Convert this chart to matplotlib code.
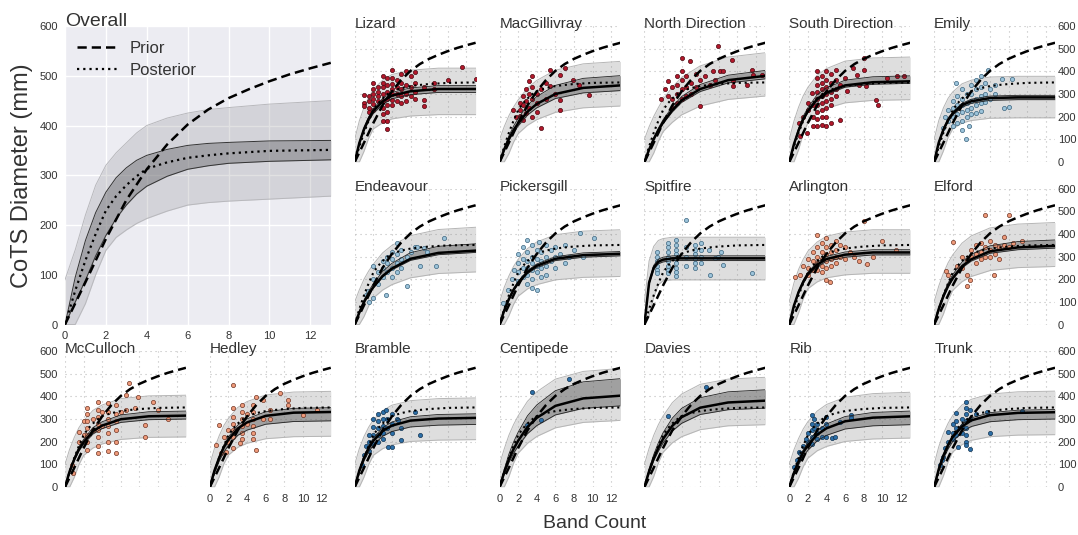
import matplotlib.pyplot as plt
import matplotlib.gridspec as gridspec
from matplotlib.lines import Line2D

plt.rcParams['font.family'] = ['Liberation Sans', 'DejaVu Sans']

BAND = [0, 0.5, 1, 1.5, 2, 3, 4, 6, 9, 13]
FINE_BAND = [0, 0.5, 1, 1.5, 2, 2.5, 3, 3.5, 4, 5, 6, 7, 8, 10, 13]
PRIOR_BAND = [0, 1, 2, 3, 4, 5, 6, 7, 8, 9, 10, 11, 12, 13]
PRIOR = [0, 85, 172, 250, 312, 362, 402, 432, 455, 473, 489, 503, 515, 526]

# overall panel, read at FINE_BAND
POSTERIOR = [0, 68, 129, 182, 229, 258, 280, 298, 313, 326, 335, 340, 344, 349, 351]
OVERALL_CI_LO = [0, 45, 89, 138, 179, 213, 240, 262, 278, 298, 312, 319, 324, 328, 331]
OVERALL_CI_HI = [0, 95, 169, 225, 266, 295, 315, 330, 340, 352, 360, 364, 366, 369, 370]
OVERALL_PI_LO = [0, 0, 42, 100, 149, 175, 190, 203, 213, 228, 240, 245, 248, 252, 258]
OVERALL_PI_HI = [90, 150, 220, 280, 320, 345, 365, 385, 400, 415, 425, 432, 436, 443, 450]

REEFS = ['Lizard', 'MacGillivray', 'North Direction', 'South Direction', 'Emily',
         'Endeavour', 'Pickersgill', 'Spitfire', 'Arlington', 'Elford',
         'McCulloch', 'Hedley', 'Bramble', 'Centipede', 'Davies', 'Rib', 'Trunk']

# reef curves, read at BAND
REEF_MEAN = [
    [0, 84, 145, 190, 225, 267, 293, 312, 322, 322],
    [0, 55, 102, 140, 171, 222, 256, 300, 327, 338],
    [0, 54, 101, 140, 175, 229, 272, 322, 361, 380],
    [0, 78, 139, 189, 224, 278, 306, 338, 352, 356],
    [0, 86, 143, 185, 214, 251, 268, 282, 285, 285],
    [0, 53, 99, 135, 165, 214, 247, 290, 316, 326],
    [0, 62, 112, 153, 184, 231, 259, 290, 306, 312],
    [0, 184, 251, 277, 286, 292, 292, 292, 292, 292],
    [0, 83, 143, 188, 223, 264, 289, 308, 318, 318],
    [0, 69, 125, 170, 205, 257, 288, 323, 340, 347],
    [0, 69, 123, 167, 198, 246, 271, 299, 312, 315],
    [0, 73, 129, 175, 209, 258, 285, 314, 328, 331],
    [0, 73, 128, 171, 204, 247, 271, 293, 302, 305],
    [0, 65, 122, 167, 204, 265, 305, 358, 391, 403],
    [0, 69, 127, 173, 212, 270, 308, 350, 373, 381],
    [0, 62, 112, 153, 184, 231, 259, 290, 306, 312],
    [0, 79, 139, 185, 221, 267, 294, 317, 327, 330],
]
REEF_CI_LO = [
    [0, 80, 138, 181, 214, 254, 279, 297, 307, 307],
    [0, 51, 95, 130, 159, 207, 239, 280, 305, 315],
    [0, 52, 98, 135, 169, 221, 263, 311, 349, 367],
    [0, 76, 136, 184, 218, 271, 298, 330, 343, 347],
    [0, 83, 138, 179, 207, 242, 259, 272, 275, 275],
    [0, 52, 97, 132, 161, 209, 241, 283, 308, 318],
    [0, 60, 109, 149, 179, 224, 251, 282, 297, 303],
    [0, 178, 242, 268, 276, 282, 282, 282, 282, 282],
    [0, 80, 138, 181, 215, 255, 279, 297, 307, 307],
    [0, 67, 121, 165, 199, 250, 280, 314, 330, 337],
    [0, 66, 117, 159, 189, 234, 258, 285, 297, 300],
    [0, 64, 114, 154, 184, 228, 251, 277, 289, 292],
    [0, 66, 116, 155, 185, 224, 245, 265, 273, 276],
    [0, 58, 108, 148, 181, 235, 271, 318, 347, 358],
    [0, 63, 116, 158, 194, 247, 281, 320, 341, 348],
    [0, 55, 99, 135, 162, 204, 228, 256, 270, 275],
    [0, 72, 126, 168, 201, 243, 267, 288, 297, 300],
]
REEF_CI_HI = [
    [0, 88, 152, 199, 236, 280, 307, 327, 337, 337],
    [0, 62, 115, 158, 193, 250, 289, 338, 369, 381],
    [0, 57, 107, 149, 186, 243, 289, 342, 383, 404],
    [0, 83, 148, 202, 239, 297, 327, 361, 376, 380],
    [0, 89, 148, 191, 221, 259, 277, 291, 294, 294],
    [0, 58, 108, 147, 180, 234, 270, 317, 345, 356],
    [0, 64, 116, 158, 190, 238, 267, 299, 316, 322],
    [0, 191, 261, 288, 297, 303, 303, 303, 303, 303],
    [0, 86, 148, 195, 231, 274, 300, 320, 330, 330],
    [0, 74, 134, 183, 220, 276, 310, 347, 366, 373],
    [0, 73, 131, 178, 210, 262, 288, 318, 332, 335],
    [0, 77, 136, 185, 221, 273, 301, 332, 347, 350],
    [0, 77, 136, 181, 216, 262, 287, 310, 320, 323],
    [0, 77, 145, 198, 242, 314, 362, 425, 464, 478],
    [0, 78, 143, 195, 239, 304, 347, 394, 420, 429],
    [0, 67, 120, 164, 198, 248, 278, 311, 329, 335],
    [0, 82, 144, 192, 229, 277, 305, 328, 339, 342],
]
REEF_PI_LO = [
    [0, 0, 47, 105, 146, 173, 190, 203, 209, 209],
    [0, 0, 37, 87, 125, 162, 187, 219, 239, 247],
    [0, 0, 39, 91, 134, 175, 208, 247, 276, 291],
    [0, 0, 54, 124, 173, 215, 237, 261, 272, 275],
    [0, 0, 49, 108, 146, 172, 183, 193, 195, 195],
    [0, 0, 35, 82, 117, 152, 176, 206, 225, 232],
    [0, 0, 38, 88, 125, 157, 176, 197, 208, 212],
    [0, 40, 120, 175, 193, 197, 197, 197, 197, 197],
    [0, 0, 51, 113, 158, 188, 206, 219, 226, 226],
    [0, 0, 46, 106, 151, 189, 212, 238, 251, 256],
    [0, 0, 43, 99, 139, 172, 190, 210, 219, 221],
    [0, 0, 44, 101, 141, 175, 193, 213, 222, 224],
    [0, 0, 44, 99, 140, 169, 186, 201, 207, 209],
    [0, 0, 45, 104, 149, 193, 223, 261, 285, 294],
    [0, 0, 46, 106, 153, 195, 222, 253, 270, 275],
    [0, 0, 39, 90, 127, 160, 179, 201, 212, 216],
    [0, 0, 49, 110, 155, 187, 206, 222, 229, 231],
]
REEF_PI_HI = [
    [100, 182, 241, 285, 320, 361, 386, 405, 414, 414],
    [100, 156, 204, 242, 274, 326, 360, 405, 433, 444],
    [100, 155, 201, 240, 276, 330, 373, 424, 463, 482],
    [100, 180, 242, 292, 329, 383, 412, 445, 459, 463],
    [100, 183, 239, 281, 309, 345, 361, 375, 378, 378],
    [100, 153, 200, 236, 266, 316, 349, 392, 419, 429],
    [100, 164, 214, 256, 288, 335, 364, 396, 412, 418],
    [100, 280, 345, 371, 379, 385, 385, 385, 385, 385],
    [100, 183, 243, 288, 323, 364, 389, 408, 418, 418],
    [100, 170, 226, 272, 307, 359, 391, 426, 443, 450],
    [100, 167, 219, 262, 292, 338, 362, 390, 402, 405],
    [100, 171, 226, 271, 303, 351, 377, 406, 419, 422],
    [100, 170, 223, 264, 296, 337, 361, 381, 390, 393],
    [100, 168, 228, 275, 314, 378, 420, 476, 510, 523],
    [100, 170, 228, 275, 313, 372, 410, 453, 476, 484],
    [100, 164, 214, 256, 288, 335, 364, 396, 412, 418],
    [100, 178, 236, 281, 316, 362, 387, 410, 420, 423],
]

# observed starfish: (band count, diameter mm)
pts_lizard = [(1, 297), (1, 260), (1, 245), (1.5, 290), (1.5, 270), (1.5, 240), (1.5, 220),
              (2, 350), (2, 320), (2, 300), (2, 280), (2, 255), (2, 230), (2.5, 330), (2.5, 310),
              (2.5, 290), (2.5, 270), (3, 380), (3, 350), (3, 330), (3, 300), (3, 270), (3, 240),
              (3, 210), (3, 180), (3.5, 370), (3.5, 340), (3.5, 310), (3.5, 280), (3.5, 250),
              (3.5, 220), (3.5, 180), (3.5, 145), (4, 407), (4, 370), (4, 345), (4, 320), (4, 300),
              (4, 275), (4, 250), (4.5, 360), (4.5, 330), (4.5, 300), (4.5, 270), (5, 390), (5, 350),
              (5, 320), (5, 290), (5, 260), (5.5, 400), (5.5, 340), (5.5, 300), (5.5, 270), (6, 380),
              (6, 330), (6, 290), (6.5, 395), (6.5, 350), (6.5, 310), (6.5, 280), (7.5, 330),
              (7.5, 275), (7.5, 246), (8.5, 350), (8.5, 320), (10, 363), (11.5, 421), (13, 366)]
pts_macgillivray = [(1.4, 231), (1.8, 200), (2.2, 261), (2.2, 230), (2.2, 205), (2.5, 290), (2.5, 250),
                    (2.5, 187), (2.8, 320), (2.8, 270), (2.8, 217), (3.2, 356), (3.2, 300), (3.2, 240),
                    (3.5, 378), (3.5, 330), (3.5, 280), (3.5, 200), (4, 300), (4, 261), (4, 220),
                    (4.5, 320), (4.5, 151), (5, 350), (5, 280), (5.4, 407), (5.4, 334), (6, 300),
                    (6.5, 385), (6.5, 275), (6.5, 231), (7, 414), (7.9, 363), (8.5, 341), (9.6, 297)]
pts_north = [(1.8, 280), (2.2, 320), (2.5, 356), (2.5, 290), (3, 330), (3, 280), (3, 240), (3.5, 380),
             (3.5, 340), (3.5, 300), (3.5, 260), (4, 458), (4, 400), (4, 360), (4, 320), (4, 280),
             (4.5, 380), (4.5, 330), (4.5, 290), (4.9, 444), (5, 350), (5, 300), (5.5, 390), (5.5, 330),
             (6, 360), (6, 246), (6.5, 380), (7, 340), (7.4, 400), (7.6, 363), (7.9, 512), (8.1, 400),
             (8.5, 400), (9.4, 451), (9.5, 356), (9.5, 334), (11, 341), (11.6, 407), (11.7, 385),
             (12.6, 385)]
pts_south = [(1, 173), (1.2, 114), (1.5, 200), (1.9, 129), (2, 230), (2, 260), (2.4, 305), (2.5, 250),
             (2.5, 200), (2.5, 160), (3, 400), (3, 370), (3, 340), (3, 310), (3, 280), (3, 250), (3, 220),
             (3, 190), (3, 158), (3.5, 380), (3.5, 350), (3.5, 320), (3.5, 290), (3.5, 260), (3.5, 230),
             (3.5, 200), (3.5, 165), (4, 400), (4, 360), (4, 330), (4, 300), (4, 270), (4, 240), (4, 200),
             (4, 160), (4.5, 390), (4.5, 350), (4.5, 310), (4.5, 280), (4.5, 250), (4.5, 170), (5, 407),
             (5, 360), (5, 320), (5, 290), (5.5, 340), (5.5, 187), (6, 370), (6.2, 312), (6.8, 414),
             (7.3, 385), (7.5, 340), (8, 458), (8, 407), (8.3, 334), (9.3, 275), (9.5, 253), (10.5, 370),
             (11.6, 380), (12.3, 380)]
pts_emily = [(1, 150), (1.2, 200), (1.5, 231), (1.5, 180), (2, 270), (2, 240), (2, 200), (2, 160),
             (2.4, 348), (2.5, 290), (2.5, 250), (2.5, 210), (2.5, 170), (3, 320), (3, 280), (3, 250),
             (3, 220), (3, 180), (3, 140), (3.4, 102), (3.5, 300), (3.5, 260), (3.5, 230), (3.5, 200),
             (3.7, 158), (4, 340), (4, 300), (4, 270), (4, 240), (4, 210), (4.5, 360), (4.5, 320),
             (4.5, 280), (4.5, 250), (4.5, 215), (5, 380), (5, 330), (5, 290), (5, 260), (5, 225),
             (5.5, 350), (5.5, 300), (5.5, 265), (5.8, 407), (6, 320), (6, 280), (6.5, 340), (6.5, 300),
             (7.3, 366), (7.5, 239), (8, 243), (8.4, 367)]
pts_endeavour = [(1.2, 130), (1.4, 146), (1.55, 101), (2, 256), (2, 200), (2, 116), (2.5, 230), (2.5, 180),
                 (3, 280), (3, 250), (3, 210), (3.4, 131), (3.5, 300), (3.5, 270), (3.5, 230), (4, 320),
                 (4, 290), (4, 250), (4, 210), (4.5, 359), (4.5, 310), (4.5, 270), (4.5, 230), (5, 330),
                 (5, 290), (5, 250), (5.6, 300), (5.6, 168), (6, 320), (6.5, 340), (6.7, 344), (7, 256),
                 (7.5, 337), (7.8, 320), (8.7, 256), (9.6, 381)]
pts_pickersgill = [(0.4, 94), (0.9, 153), (1.3, 200), (1.5, 240), (2, 312), (2, 270), (2, 230), (2, 190),
                   (2.5, 340), (2.5, 290), (2.5, 250), (2.5, 210), (2.9, 374), (3, 320), (3, 280), (3, 250),
                   (3, 220), (3, 180), (3.5, 350), (3.5, 300), (3.5, 270), (3.5, 240), (3.5, 200),
                   (3.5, 160), (4, 330), (4, 290), (4, 260), (4, 230), (4, 153), (4.2, 366), (4.5, 320),
                   (4.5, 280), (4.5, 250), (4.5, 210), (5, 350), (5, 300), (5, 260), (5, 220), (5.5, 330),
                   (5.5, 280), (6, 340), (6, 300), (6, 250), (6.5, 310), (7, 350), (7, 270), (7.5, 300),
                   (8, 330), (8.7, 403), (9, 300), (10.1, 381)]
pts_spitfire = [(1.4, 320), (1.4, 300), (1.4, 280), (1.4, 260), (1.4, 240), (1.4, 226), (2.5, 359),
                (2.5, 340), (2.5, 320), (2.5, 300), (2.5, 280), (2.5, 260), (2.5, 240), (2.5, 226),
                (3.4, 374), (3.4, 350), (3.4, 330), (3.4, 310), (3.4, 290), (3.4, 270), (3.4, 250),
                (3.4, 230), (3.4, 212), (4.5, 462), (4.5, 340), (4.5, 300), (4.5, 260), (5.4, 351),
                (5.4, 330), (5.4, 310), (5.4, 290), (5.4, 270), (5.4, 250), (6.1, 360), (6.1, 330),
                (6.1, 300), (6.1, 270), (6.9, 329), (7, 219), (7.6, 293), (7.9, 300), (8.2, 320),
                (8.5, 263), (11.6, 229)]
pts_arlington = [(0.6, 210), (1.2, 218), (1.5, 260), (2, 290), (2, 250), (2, 220), (2.5, 320), (2.5, 280),
                 (2.5, 240), (3, 393), (3, 340), (3, 300), (3, 270), (3, 240), (3.5, 360), (3.5, 320),
                 (3.5, 290), (3.5, 260), (3.5, 230), (4, 380), (4, 340), (4, 310), (4, 280), (4, 250),
                 (4, 196), (4.4, 188), (4.5, 350), (4.5, 320), (4.5, 290), (4.5, 260), (5, 370), (5, 330),
                 (5, 300), (5, 270), (5.5, 350), (5.5, 300), (6, 340), (6, 290), (6.5, 320), (7, 300),
                 (7.5, 280), (8, 456), (8.4, 265), (9, 300), (10, 370), (11.5, 330)]
pts_elford = [(1.3, 238), (1.5, 219), (2, 365), (2.5, 260), (3, 300), (3, 250), (3.5, 285), (3.5, 219),
              (3.5, 168), (3.9, 197), (4, 330), (4, 300), (4.5, 350), (4.5, 310), (4.5, 270), (5, 360),
              (5, 320), (5, 290), (5.5, 482), (5.5, 340), (5.5, 300), (6, 370), (6, 330), (6, 300),
              (6.4, 219), (6.5, 350), (6.5, 310), (7, 340), (7, 290), (7.5, 388), (7.5, 350), (8, 482),
              (8, 340), (8.5, 360), (9.5, 368)]
pts_mcculloch = [(0.8, 97), (0.9, 60), (1.5, 244), (1.5, 200), (2, 290), (2, 230), (2.4, 347), (2.4, 320),
                 (2.4, 290), (2.4, 260), (2.4, 230), (2.4, 200), (2.4, 163), (3, 300), (3, 250), (3.5, 376),
                 (3.5, 340), (3.5, 310), (3.5, 280), (3.5, 250), (3.5, 220), (3.5, 180), (3.5, 149),
                 (4, 330), (4, 270), (4.6, 370), (4.6, 330), (4.6, 300), (4.6, 270), (4.6, 240), (4.6, 200),
                 (4.6, 160), (5.5, 360), (5.5, 320), (5.5, 290), (5.5, 250), (5.5, 200), (5.5, 150),
                 (6, 330), (6.6, 406), (6.6, 340), (6.9, 457), (7.5, 350), (7.8, 399), (8.6, 274),
                 (8.6, 222), (9.5, 377), (10, 340), (11.1, 299)]
pts_hedley = [(0.65, 185), (1, 274), (1.2, 149), (1.5, 220), (1.7, 156), (2, 250), (2, 200), (2.5, 450),
              (2.5, 347), (2.5, 310), (2.5, 280), (2.5, 250), (2.5, 220), (2.5, 170), (3.2, 193), (3.5, 360),
              (3.5, 330), (3.5, 300), (3.5, 270), (3.5, 240), (3.5, 210), (4, 320), (4, 280), (4.6, 360),
              (4.6, 330), (4.6, 300), (4.6, 270), (4.6, 240), (4.6, 210), (5, 399), (5, 163), (5.7, 384),
              (5.7, 300), (6.5, 340), (6.5, 300), (7.5, 413), (8.4, 384), (8.4, 360), (10, 318), (11.5, 340)]
pts_bramble = [(0.8, 97), (1, 141), (1.2, 180), (1.5, 230), (1.5, 200), (1.5, 160), (2, 300), (2, 266),
               (2, 230), (2, 190), (2.5, 320), (2.5, 290), (2.5, 260), (2.5, 230), (2.5, 200), (3, 330),
               (3, 300), (3, 270), (3, 240), (3, 210), (3.4, 341), (3.5, 300), (3.5, 260), (3.6, 178),
               (4, 320), (4, 280), (4, 240), (4, 175), (4.5, 300), (4.7, 296), (5, 260), (5, 207),
               (6.5, 332), (7, 229)]
pts_centipede = [(2.9, 274), (3.5, 421), (4.5, 296), (7.5, 475)]
pts_davies = [(2.5, 313), (6.6, 440)]
pts_rib = [(0.5, 90), (0.8, 120), (1, 156), (1.2, 149), (1.3, 130), (1.5, 180), (1.8, 210), (2, 240),
           (2, 200), (2.4, 318), (2.4, 280), (2.4, 250), (2.4, 220), (2.4, 190), (2.7, 300), (2.7, 260),
           (3, 280), (3, 240), (3, 210), (3.5, 260), (3.5, 220), (4, 307), (4, 280), (4, 220), (4.6, 215),
           (4.9, 222), (5.5, 288), (6.6, 318), (6.6, 305)]
pts_trunk = [(0.6, 97), (0.8, 120), (1, 134), (1.2, 170), (1.5, 244), (1.5, 200), (2, 280), (2, 240),
             (2, 210), (2.4, 325), (2.4, 290), (2.4, 260), (2.4, 230), (2.6, 175), (3, 300), (3, 270),
             (3, 240), (3.4, 376), (3.4, 350), (3.4, 320), (3.4, 290), (3.4, 260), (3.4, 230), (3.4, 200),
             (3.4, 185), (3.9, 340), (3.9, 300), (3.9, 166), (4.5, 320), (5.7, 332), (6, 237), (9.5, 335)]

REEF_POINTS = [pts_lizard, pts_macgillivray, pts_north, pts_south, pts_emily,
               pts_endeavour, pts_pickersgill, pts_spitfire, pts_arlington, pts_elford,
               pts_mcculloch, pts_hedley, pts_bramble, pts_centipede, pts_davies, pts_rib, pts_trunk]

# point colour group of each reef (face, edge)
RED = ('#b2182b', '#4a0810')
LIGHT_BLUE = ('#9cc3da', '#3a647e')
SALMON = ('#ef9a7a', '#6e3424')
DARK_BLUE = ('#2c6fa8', '#13324f')
REEF_COLOURS = [RED, RED, RED, RED, LIGHT_BLUE,
                LIGHT_BLUE, LIGHT_BLUE, LIGHT_BLUE, SALMON, SALMON,
                SALMON, SALMON, DARK_BLUE, DARK_BLUE, DARK_BLUE, DARK_BLUE, DARK_BLUE]

GRID_POS = [(0, 2), (0, 3), (0, 4), (0, 5), (0, 6),
            (1, 2), (1, 3), (1, 4), (1, 5), (1, 6),
            (2, 0), (2, 1), (2, 2), (2, 3), (2, 4), (2, 5), (2, 6)]

DASH = (0, (3.7, 2.0))
DOT = (0, (1, 1.8))
TXT = '#333333'

fig = plt.figure(figsize=(10.78, 5.35), dpi=100)
gs = gridspec.GridSpec(3, 7, figure=fig, left=0.0603, right=0.9787, top=0.9514,
                       bottom=0.0897, wspace=0.198, hspace=0.195)

# ---- overall panel ----
ax = fig.add_subplot(gs[0:2, 0:2])
ax.set_facecolor('#ececf2')
for s in ax.spines.values():
    s.set_visible(False)
ax.grid(True, color='white', lw=1.0)
ax.set_axisbelow(True)
ax.fill_between(FINE_BAND, OVERALL_PI_LO, OVERALL_PI_HI, color='#8a8a8f', alpha=0.25, lw=0)
ax.plot(FINE_BAND, OVERALL_PI_HI, color='#b8b8bc', lw=0.7)
ax.plot(FINE_BAND, OVERALL_PI_LO, color='#b8b8bc', lw=0.7)
ax.fill_between(FINE_BAND, OVERALL_CI_LO, OVERALL_CI_HI, color='#6a6a6e', alpha=0.45, lw=0)
ax.plot(FINE_BAND, OVERALL_CI_LO, color='#333333', lw=0.7)
ax.plot(FINE_BAND, OVERALL_CI_HI, color='#333333', lw=0.7)
ax.plot(PRIOR_BAND, PRIOR, color='black', lw=1.8, linestyle=DASH)
ax.plot(FINE_BAND, POSTERIOR, color='black', lw=1.6, linestyle=DOT)
ax.set_xlim(0, 13)
ax.set_ylim(0, 600)
ax.set_xticks(range(0, 13, 2))
ax.set_yticks(range(0, 601, 100))
ax.tick_params(length=0, labelsize=8, colors=TXT, pad=5)
ax.set_ylabel('CoTS Diameter (mm)', fontsize=17, color=TXT, labelpad=5)
ax.text(0, 1.0, 'Overall', transform=ax.transAxes, ha='left', va='baseline',
        fontsize=14, color=TXT)
handles = [Line2D([], [], color='black', lw=1.8, linestyle=DASH),
           Line2D([], [], color='black', lw=1.6, linestyle=DOT)]
ax.legend(handles, ['Prior', 'Posterior'], loc='upper left', frameon=False,
          fontsize=12, handlelength=2.4, handletextpad=0.8, labelspacing=0.45,
          bbox_to_anchor=(0.0, 0.99), borderaxespad=0.3, labelcolor=TXT)

# ---- reef panels ----
for i, name in enumerate(REEFS):
    r, c = GRID_POS[i]
    ax = fig.add_subplot(gs[r, c])
    for s in ax.spines.values():
        s.set_visible(False)
    ax.grid(True, color='#bdbdbd', lw=0.8, linestyle=(0, (1, 3.5)))
    ax.set_axisbelow(True)
    ax.fill_between(BAND, REEF_PI_LO[i], REEF_PI_HI[i], color='#8a8a8a', alpha=0.28, lw=0)
    ax.plot(BAND, REEF_PI_HI[i], color='#b5b5b5', lw=0.7)
    ax.plot(BAND, REEF_PI_LO[i], color='#b5b5b5', lw=0.7)
    ax.fill_between(BAND, REEF_CI_LO[i], REEF_CI_HI[i], color='#555555', alpha=0.45, lw=0)
    face, edge = REEF_COLOURS[i]
    px = [p[0] for p in REEF_POINTS[i]]
    py = [p[1] for p in REEF_POINTS[i]]
    ax.scatter(px, py, s=9, c=face, edgecolors=edge, linewidths=0.5, zorder=3)
    ax.plot(BAND, REEF_CI_LO[i], color='#222222', lw=0.6, zorder=4)
    ax.plot(BAND, REEF_CI_HI[i], color='#222222', lw=0.6, zorder=4)
    ax.plot(BAND, REEF_MEAN[i], color='black', lw=1.8, zorder=5)
    ax.plot(FINE_BAND, POSTERIOR, color='black', lw=1.5, linestyle=DOT, zorder=5)
    ax.plot(PRIOR_BAND, PRIOR, color='black', lw=1.8, linestyle=DASH, zorder=5)
    ax.set_xlim(0, 13)
    ax.set_ylim(0, 600)
    ax.set_xticks(range(0, 13, 2))
    ax.set_yticks(range(0, 601, 100))
    ax.tick_params(length=0, labelsize=8, colors=TXT, pad=3,
                   labelleft=False, labelbottom=False)
    if name == 'McCulloch':
        ax.tick_params(labelleft=True, pad=5)
    if c == 6:
        ax.yaxis.tick_right()
        ax.tick_params(labelright=True, pad=2)
    if name in ('Hedley', 'Centipede', 'Rib'):
        ax.tick_params(labelbottom=True, pad=5)
    ax.text(0, 0.985, name, transform=ax.transAxes, ha='left', va='baseline',
            fontsize=11, color=TXT)

fig.text(0.552, 0.021, 'Band Count', ha='center', va='center', fontsize=14, color=TXT)

fig.savefig('out.png', dpi=100)
